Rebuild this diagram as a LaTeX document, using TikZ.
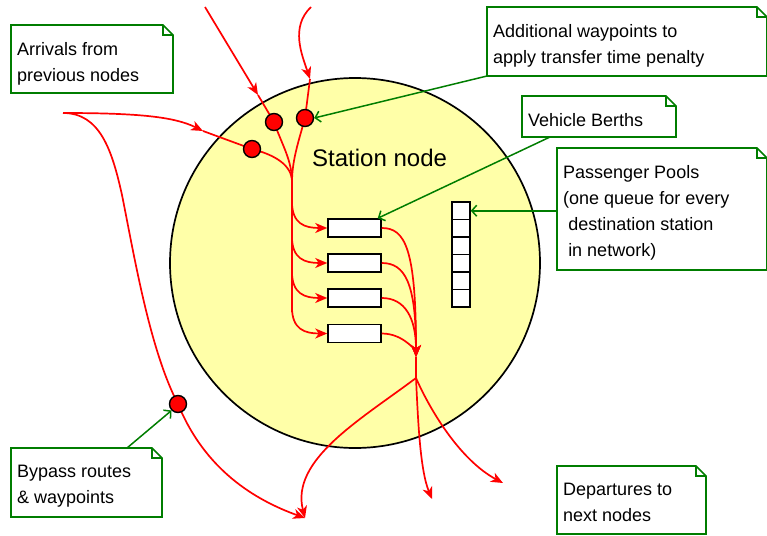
\documentclass[tikz,border=0pt]{standalone}
\usepackage{fontspec}
\setmainfont{Liberation Sans}
\usetikzlibrary{arrows.meta}
\definecolor{notegreen}{RGB}{0,125,0}
\definecolor{stationyellow}{RGB}{255,255,168}
\definecolor{routered}{RGB}{255,0,0}
\newcommand\notefont{\fontsize{18}{26}\selectfont}
\newcommand\mknote[6]{%
  \node[notebg, anchor=north west, minimum width={#4-#2}, minimum height={#5-#3}] (#1) at (#2,#3) {};
  \draw[noteline] (#1.north west) -- ([xshift=-10pt]#1.north east) -- ([yshift=-10pt]#1.north east) -- (#1.south east) -- (#1.south west) -- cycle;
  \draw[noteline] ([xshift=-10pt]#1.north east) |- ([yshift=-10pt]#1.north east);
  \node[notetext] (#1-t) at ([xshift=6pt,yshift=-17.3pt]#1.north west) {#6};
}
\begin{document}
\begin{tikzpicture}[x=1pt,y=-1pt,
  notebg/.style={rectangle, draw=none, fill=white, inner sep=0pt, outer sep=0pt},
  noteline/.style={draw=notegreen, line width=1.6pt},
  notetext/.style={anchor=north west, inner sep=0pt, align=left, font=\notefont},
  route/.style={draw=routered, line width=1.7pt},
  rarrow/.style={route, -{Stealth[length=12pt,width=10pt,inset=3.5pt]}},
  garrow/.style={draw=notegreen, line width=1.5pt, -{Straight Barb[length=5pt,width=11pt]}},
  waypt/.style={circle, draw=black, line width=1.4pt, fill=routered, minimum size=17pt, inner sep=0pt},
  berth/.style={rectangle, draw=black, line width=1.5pt, fill=white, minimum width=53pt, minimum height=18pt, inner sep=0pt},
  poolcell/.style={rectangle, draw=black, line width=1.4pt, fill=white, minimum width=18pt, minimum height=17.5pt, inner sep=0pt}
]
\useasboundingbox (0,0) rectangle (767,535);

% station
\node[circle, draw=black, line width=1.7pt, fill=stationyellow, minimum size=370pt, inner sep=0pt] (station) at (355,263) {};
\node[anchor=north west, inner sep=0pt, font=\fontsize{24}{28}\selectfont] (stationlabel) at (312,149) {Station node};

% coordinates
\coordinate (srcA) at (205,7);
\coordinate (tipA) at (258,95);
\coordinate (srcB) at (311,7);
\coordinate (tipB) at (310,79);
\coordinate (srcL) at (63,113);
\coordinate (tipC) at (203,131);
\coordinate (trunktop) at (292,182);
\coordinate (trunkbot) at (292,312);
\coordinate (merge) at (416,357);
\coordinate (split) at (416,378);
\coordinate (endL) at (305,518);
\coordinate (endM) at (432,499);
\coordinate (endR) at (503,483);

% waypoint dots (positions)
\coordinate (pA) at (274,122);
\coordinate (pB) at (305,118);
\coordinate (pC) at (252,149);
\coordinate (pD) at (178,404);

% berth positions
\coordinate (b1) at (354.5,228);
\coordinate (b2) at (354.5,263);
\coordinate (b3) at (354.5,298);
\coordinate (b4) at (354.5,333.5);

% incoming routes
\draw[rarrow] (srcA) -- (tipA);
\draw[route] (tipA) -- (pA) .. controls (282,145) and (292,160) .. (trunktop);
\draw[rarrow] (srcB) .. controls (290,27) and (302,55) .. (tipB);
\draw[route] (tipB) -- (pB) .. controls (299,140) and (292,160) .. (trunktop);
\draw[rarrow] (srcL) .. controls (140,113) and (175,117) .. (tipC);
\draw[route] (tipC) -- (pC) .. controls (275,155) and (292,165) .. (trunktop);
\draw[route] (trunktop) -- (trunkbot);

% bypass
\draw[route] (srcL) .. controls (100,113) and (112,150) .. (122,195) .. controls (135,260) and (150,350) .. (pD);
\draw[rarrow] (pD) .. controls (205,470) and (255,500) .. (endL);

% berths
\node[berth] (berth1) at (b1) {};
\node[berth] (berth2) at (b2) {};
\node[berth] (berth3) at (b3) {};
\node[berth] (berth4) at (b4) {};

\foreach \i/\y in {1/228,2/263,3/298,4/333.5}{
  \draw[rarrow] (292,\y-26) .. controls (292,\y-4) and (305,\y) .. (berth\i.west);
  \draw[rarrow] (berth\i.east) .. controls (405,\y) and (416,\y+20) .. (merge);
}

% departures
\draw[route] (merge) -- (split);
\draw[rarrow] (split) .. controls (360,420) and (290,460) .. (endL);
\draw[rarrow] (split) .. controls (418,420) and (420,470) .. (endM);
\draw[rarrow] (split) .. controls (430,410) and (460,460) .. (endR);

% dots
\node[waypt] (dotA) at (pA) {};
\node[waypt] (dotB) at (pB) {};
\node[waypt] (dotC) at (pC) {};
\node[waypt] (dotD) at (pD) {};

% passenger pool
\foreach \i in {0,...,5}{
  \node[poolcell] (pool\i) at (461,210.75+\i*17.5) {};
}

% notes
\mknote{arrivals}{11}{25}{173}{93}{Arrivals from\\previous nodes}
\mknote{waypts}{487}{7}{767}{76}{Additional waypoints to\\apply transfer time penalty}
\mknote{vberths}{522}{96}{676}{137}{Vehicle Berths}
\mknote{pools}{557}{148}{767}{270}{Passenger Pools\\(one queue for every\\\hspace*{0.28em}destination station\\\hspace*{0.28em}in network)}
\mknote{bypass}{11}{448}{162}{517}{Bypass routes\\\& waypoints}
\mknote{departs}{557}{466}{706}{534}{Departures to\\next nodes}

% green pointers
\draw[garrow] (waypts.south west) -- (dotB.east);
\draw[garrow] ([xshift=28pt]vberths.south west) -- ([xshift=-4pt]berth1.north east);
\draw[garrow] (pools.west |- pool0.east) -- (pool0.east);
\draw[garrow] ([xshift=116pt]bypass.north west) -- (dotD.225);
\end{tikzpicture}
\end{document}
